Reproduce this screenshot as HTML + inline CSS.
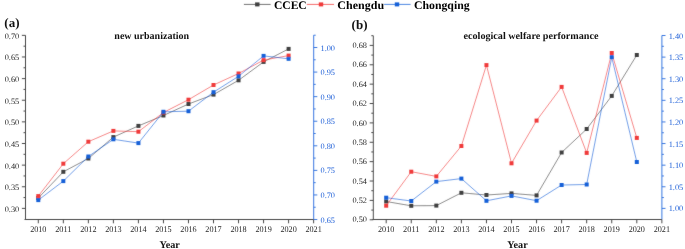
<!DOCTYPE html>
<html><head><meta charset="utf-8">
<style>
html,body{margin:0;padding:0;background:#fff;}
body{width:685px;height:249px;overflow:hidden;}
svg{display:block;font-family:"Liberation Serif", serif;will-change:transform;text-rendering:geometricPrecision;}
</style></head>
<body>
<svg width="685" height="249" viewBox="0 0 685 249">
<defs><filter id="bl" filterUnits="userSpaceOnUse" x="0" y="0" width="685" height="249"><feConvolveMatrix order="3" kernelMatrix="0.015 0.05 0.015 0.05 0.7400 0.05 0.015 0.05 0.015" divisor="1" edgeMode="duplicate"/></filter></defs>
<rect width="685" height="249" fill="#fff"/>
<g filter="url(#bl)">
<line x1="25.50" y1="35.35" x2="25.50" y2="219.50" stroke="#4a4a4a" stroke-width="1.0"/>
<line x1="21.90" y1="208.39" x2="25.50" y2="208.39" stroke="#4a4a4a" stroke-width="1.0"/>
<line x1="21.90" y1="186.76" x2="25.50" y2="186.76" stroke="#4a4a4a" stroke-width="1.0"/>
<line x1="21.90" y1="165.13" x2="25.50" y2="165.13" stroke="#4a4a4a" stroke-width="1.0"/>
<line x1="21.90" y1="143.50" x2="25.50" y2="143.50" stroke="#4a4a4a" stroke-width="1.0"/>
<line x1="21.90" y1="121.87" x2="25.50" y2="121.87" stroke="#4a4a4a" stroke-width="1.0"/>
<line x1="21.90" y1="100.24" x2="25.50" y2="100.24" stroke="#4a4a4a" stroke-width="1.0"/>
<line x1="21.90" y1="78.61" x2="25.50" y2="78.61" stroke="#4a4a4a" stroke-width="1.0"/>
<line x1="21.90" y1="56.98" x2="25.50" y2="56.98" stroke="#4a4a4a" stroke-width="1.0"/>
<line x1="21.90" y1="35.35" x2="25.50" y2="35.35" stroke="#4a4a4a" stroke-width="1.0"/>
<line x1="23.50" y1="197.57" x2="25.50" y2="197.57" stroke="#4a4a4a" stroke-width="1.0"/>
<line x1="23.50" y1="175.94" x2="25.50" y2="175.94" stroke="#4a4a4a" stroke-width="1.0"/>
<line x1="23.50" y1="154.31" x2="25.50" y2="154.31" stroke="#4a4a4a" stroke-width="1.0"/>
<line x1="23.50" y1="132.68" x2="25.50" y2="132.68" stroke="#4a4a4a" stroke-width="1.0"/>
<line x1="23.50" y1="111.05" x2="25.50" y2="111.05" stroke="#4a4a4a" stroke-width="1.0"/>
<line x1="23.50" y1="89.42" x2="25.50" y2="89.42" stroke="#4a4a4a" stroke-width="1.0"/>
<line x1="23.50" y1="67.79" x2="25.50" y2="67.79" stroke="#4a4a4a" stroke-width="1.0"/>
<line x1="23.50" y1="46.16" x2="25.50" y2="46.16" stroke="#4a4a4a" stroke-width="1.0"/>
<line x1="313.70" y1="35.21" x2="313.70" y2="219.50" stroke="#3A78E0" stroke-width="1.0"/>
<line x1="313.70" y1="219.52" x2="317.30" y2="219.52" stroke="#3A78E0" stroke-width="1.0"/>
<line x1="313.70" y1="194.95" x2="317.30" y2="194.95" stroke="#3A78E0" stroke-width="1.0"/>
<line x1="313.70" y1="170.38" x2="317.30" y2="170.38" stroke="#3A78E0" stroke-width="1.0"/>
<line x1="313.70" y1="145.80" x2="317.30" y2="145.80" stroke="#3A78E0" stroke-width="1.0"/>
<line x1="313.70" y1="121.23" x2="317.30" y2="121.23" stroke="#3A78E0" stroke-width="1.0"/>
<line x1="313.70" y1="96.65" x2="317.30" y2="96.65" stroke="#3A78E0" stroke-width="1.0"/>
<line x1="313.70" y1="72.08" x2="317.30" y2="72.08" stroke="#3A78E0" stroke-width="1.0"/>
<line x1="313.70" y1="47.50" x2="317.30" y2="47.50" stroke="#3A78E0" stroke-width="1.0"/>
<line x1="313.70" y1="207.24" x2="315.70" y2="207.24" stroke="#3A78E0" stroke-width="1.0"/>
<line x1="313.70" y1="182.66" x2="315.70" y2="182.66" stroke="#3A78E0" stroke-width="1.0"/>
<line x1="313.70" y1="158.09" x2="315.70" y2="158.09" stroke="#3A78E0" stroke-width="1.0"/>
<line x1="313.70" y1="133.51" x2="315.70" y2="133.51" stroke="#3A78E0" stroke-width="1.0"/>
<line x1="313.70" y1="108.94" x2="315.70" y2="108.94" stroke="#3A78E0" stroke-width="1.0"/>
<line x1="313.70" y1="84.36" x2="315.70" y2="84.36" stroke="#3A78E0" stroke-width="1.0"/>
<line x1="313.70" y1="59.79" x2="315.70" y2="59.79" stroke="#3A78E0" stroke-width="1.0"/>
<line x1="313.70" y1="35.21" x2="315.70" y2="35.21" stroke="#3A78E0" stroke-width="1.0"/>
<line x1="24.50" y1="219.50" x2="313.70" y2="219.50" stroke="#4a4a4a" stroke-width="1.0"/>
<line x1="38.30" y1="219.50" x2="38.30" y2="223.30" stroke="#4a4a4a" stroke-width="1.0"/>
<line x1="63.33" y1="219.50" x2="63.33" y2="223.30" stroke="#4a4a4a" stroke-width="1.0"/>
<line x1="88.36" y1="219.50" x2="88.36" y2="223.30" stroke="#4a4a4a" stroke-width="1.0"/>
<line x1="113.39" y1="219.50" x2="113.39" y2="223.30" stroke="#4a4a4a" stroke-width="1.0"/>
<line x1="138.42" y1="219.50" x2="138.42" y2="223.30" stroke="#4a4a4a" stroke-width="1.0"/>
<line x1="163.45" y1="219.50" x2="163.45" y2="223.30" stroke="#4a4a4a" stroke-width="1.0"/>
<line x1="188.48" y1="219.50" x2="188.48" y2="223.30" stroke="#4a4a4a" stroke-width="1.0"/>
<line x1="213.51" y1="219.50" x2="213.51" y2="223.30" stroke="#4a4a4a" stroke-width="1.0"/>
<line x1="238.54" y1="219.50" x2="238.54" y2="223.30" stroke="#4a4a4a" stroke-width="1.0"/>
<line x1="263.57" y1="219.50" x2="263.57" y2="223.30" stroke="#4a4a4a" stroke-width="1.0"/>
<line x1="288.60" y1="219.50" x2="288.60" y2="223.30" stroke="#4a4a4a" stroke-width="1.0"/>
<line x1="313.63" y1="219.50" x2="313.63" y2="223.30" stroke="#4a4a4a" stroke-width="1.0"/>
<polyline points="38.30,198.00 63.33,171.80 88.36,158.50 113.39,137.10 138.42,125.90 163.45,115.50 188.48,104.00 213.51,94.60 238.54,80.30 263.57,61.90 288.60,48.90" fill="none" stroke="#414141" stroke-width="0.6"/>
<rect x="36.30" y="196.00" width="4.0" height="4.0" fill="#414141"/>
<rect x="61.33" y="169.80" width="4.0" height="4.0" fill="#414141"/>
<rect x="86.36" y="156.50" width="4.0" height="4.0" fill="#414141"/>
<rect x="111.39" y="135.10" width="4.0" height="4.0" fill="#414141"/>
<rect x="136.42" y="123.90" width="4.0" height="4.0" fill="#414141"/>
<rect x="161.45" y="113.50" width="4.0" height="4.0" fill="#414141"/>
<rect x="186.48" y="102.00" width="4.0" height="4.0" fill="#414141"/>
<rect x="211.51" y="92.60" width="4.0" height="4.0" fill="#414141"/>
<rect x="236.54" y="78.30" width="4.0" height="4.0" fill="#414141"/>
<rect x="261.57" y="59.90" width="4.0" height="4.0" fill="#414141"/>
<rect x="286.60" y="46.90" width="4.0" height="4.0" fill="#414141"/>
<polyline points="38.30,196.10 63.33,163.70 88.36,141.70 113.39,130.90 138.42,131.70 163.45,112.50 188.48,99.70 213.51,85.00 238.54,73.50 263.57,60.10 288.60,55.60" fill="none" stroke="#F03A3A" stroke-width="0.6"/>
<rect x="36.30" y="194.10" width="4.0" height="4.0" fill="#F03A3A"/>
<rect x="61.33" y="161.70" width="4.0" height="4.0" fill="#F03A3A"/>
<rect x="86.36" y="139.70" width="4.0" height="4.0" fill="#F03A3A"/>
<rect x="111.39" y="128.90" width="4.0" height="4.0" fill="#F03A3A"/>
<rect x="136.42" y="129.70" width="4.0" height="4.0" fill="#F03A3A"/>
<rect x="161.45" y="110.50" width="4.0" height="4.0" fill="#F03A3A"/>
<rect x="186.48" y="97.70" width="4.0" height="4.0" fill="#F03A3A"/>
<rect x="211.51" y="83.00" width="4.0" height="4.0" fill="#F03A3A"/>
<rect x="236.54" y="71.50" width="4.0" height="4.0" fill="#F03A3A"/>
<rect x="261.57" y="58.10" width="4.0" height="4.0" fill="#F03A3A"/>
<rect x="286.60" y="53.60" width="4.0" height="4.0" fill="#F03A3A"/>
<polyline points="38.30,200.10 63.33,181.10 88.36,156.50 113.39,139.30 138.42,143.10 163.45,111.80 188.48,111.20 213.51,92.20 238.54,76.30 263.57,55.90 288.60,58.80" fill="none" stroke="#1560D8" stroke-width="0.6"/>
<rect x="36.30" y="198.10" width="4.0" height="4.0" fill="#1560D8"/>
<rect x="61.33" y="179.10" width="4.0" height="4.0" fill="#1560D8"/>
<rect x="86.36" y="154.50" width="4.0" height="4.0" fill="#1560D8"/>
<rect x="111.39" y="137.30" width="4.0" height="4.0" fill="#1560D8"/>
<rect x="136.42" y="141.10" width="4.0" height="4.0" fill="#1560D8"/>
<rect x="161.45" y="109.80" width="4.0" height="4.0" fill="#1560D8"/>
<rect x="186.48" y="109.20" width="4.0" height="4.0" fill="#1560D8"/>
<rect x="211.51" y="90.20" width="4.0" height="4.0" fill="#1560D8"/>
<rect x="236.54" y="74.30" width="4.0" height="4.0" fill="#1560D8"/>
<rect x="261.57" y="53.90" width="4.0" height="4.0" fill="#1560D8"/>
<rect x="286.60" y="56.80" width="4.0" height="4.0" fill="#1560D8"/>
<line x1="373.30" y1="35.71" x2="373.30" y2="219.50" stroke="#4a4a4a" stroke-width="1.0"/>
<line x1="369.70" y1="219.78" x2="373.30" y2="219.78" stroke="#4a4a4a" stroke-width="1.0"/>
<line x1="369.70" y1="200.40" x2="373.30" y2="200.40" stroke="#4a4a4a" stroke-width="1.0"/>
<line x1="369.70" y1="181.03" x2="373.30" y2="181.03" stroke="#4a4a4a" stroke-width="1.0"/>
<line x1="369.70" y1="161.65" x2="373.30" y2="161.65" stroke="#4a4a4a" stroke-width="1.0"/>
<line x1="369.70" y1="142.28" x2="373.30" y2="142.28" stroke="#4a4a4a" stroke-width="1.0"/>
<line x1="369.70" y1="122.90" x2="373.30" y2="122.90" stroke="#4a4a4a" stroke-width="1.0"/>
<line x1="369.70" y1="103.53" x2="373.30" y2="103.53" stroke="#4a4a4a" stroke-width="1.0"/>
<line x1="369.70" y1="84.15" x2="373.30" y2="84.15" stroke="#4a4a4a" stroke-width="1.0"/>
<line x1="369.70" y1="64.78" x2="373.30" y2="64.78" stroke="#4a4a4a" stroke-width="1.0"/>
<line x1="369.70" y1="45.40" x2="373.30" y2="45.40" stroke="#4a4a4a" stroke-width="1.0"/>
<line x1="371.30" y1="210.09" x2="373.30" y2="210.09" stroke="#4a4a4a" stroke-width="1.0"/>
<line x1="371.30" y1="190.71" x2="373.30" y2="190.71" stroke="#4a4a4a" stroke-width="1.0"/>
<line x1="371.30" y1="171.34" x2="373.30" y2="171.34" stroke="#4a4a4a" stroke-width="1.0"/>
<line x1="371.30" y1="151.96" x2="373.30" y2="151.96" stroke="#4a4a4a" stroke-width="1.0"/>
<line x1="371.30" y1="132.59" x2="373.30" y2="132.59" stroke="#4a4a4a" stroke-width="1.0"/>
<line x1="371.30" y1="113.21" x2="373.30" y2="113.21" stroke="#4a4a4a" stroke-width="1.0"/>
<line x1="371.30" y1="93.84" x2="373.30" y2="93.84" stroke="#4a4a4a" stroke-width="1.0"/>
<line x1="371.30" y1="74.46" x2="373.30" y2="74.46" stroke="#4a4a4a" stroke-width="1.0"/>
<line x1="371.30" y1="55.09" x2="373.30" y2="55.09" stroke="#4a4a4a" stroke-width="1.0"/>
<line x1="371.30" y1="35.71" x2="373.30" y2="35.71" stroke="#4a4a4a" stroke-width="1.0"/>
<line x1="661.90" y1="35.50" x2="661.90" y2="219.50" stroke="#3A78E0" stroke-width="1.0"/>
<line x1="661.90" y1="208.38" x2="665.50" y2="208.38" stroke="#3A78E0" stroke-width="1.0"/>
<line x1="661.90" y1="186.77" x2="665.50" y2="186.77" stroke="#3A78E0" stroke-width="1.0"/>
<line x1="661.90" y1="165.16" x2="665.50" y2="165.16" stroke="#3A78E0" stroke-width="1.0"/>
<line x1="661.90" y1="143.55" x2="665.50" y2="143.55" stroke="#3A78E0" stroke-width="1.0"/>
<line x1="661.90" y1="121.94" x2="665.50" y2="121.94" stroke="#3A78E0" stroke-width="1.0"/>
<line x1="661.90" y1="100.33" x2="665.50" y2="100.33" stroke="#3A78E0" stroke-width="1.0"/>
<line x1="661.90" y1="78.72" x2="665.50" y2="78.72" stroke="#3A78E0" stroke-width="1.0"/>
<line x1="661.90" y1="57.11" x2="665.50" y2="57.11" stroke="#3A78E0" stroke-width="1.0"/>
<line x1="661.90" y1="35.50" x2="665.50" y2="35.50" stroke="#3A78E0" stroke-width="1.0"/>
<line x1="661.90" y1="197.57" x2="663.90" y2="197.57" stroke="#3A78E0" stroke-width="1.0"/>
<line x1="661.90" y1="175.96" x2="663.90" y2="175.96" stroke="#3A78E0" stroke-width="1.0"/>
<line x1="661.90" y1="154.35" x2="663.90" y2="154.35" stroke="#3A78E0" stroke-width="1.0"/>
<line x1="661.90" y1="132.74" x2="663.90" y2="132.74" stroke="#3A78E0" stroke-width="1.0"/>
<line x1="661.90" y1="111.13" x2="663.90" y2="111.13" stroke="#3A78E0" stroke-width="1.0"/>
<line x1="661.90" y1="89.53" x2="663.90" y2="89.53" stroke="#3A78E0" stroke-width="1.0"/>
<line x1="661.90" y1="67.91" x2="663.90" y2="67.91" stroke="#3A78E0" stroke-width="1.0"/>
<line x1="661.90" y1="46.30" x2="663.90" y2="46.30" stroke="#3A78E0" stroke-width="1.0"/>
<line x1="372.30" y1="219.50" x2="661.90" y2="219.50" stroke="#4a4a4a" stroke-width="1.0"/>
<line x1="386.20" y1="219.50" x2="386.20" y2="223.30" stroke="#4a4a4a" stroke-width="1.0"/>
<line x1="411.26" y1="219.50" x2="411.26" y2="223.30" stroke="#4a4a4a" stroke-width="1.0"/>
<line x1="436.32" y1="219.50" x2="436.32" y2="223.30" stroke="#4a4a4a" stroke-width="1.0"/>
<line x1="461.38" y1="219.50" x2="461.38" y2="223.30" stroke="#4a4a4a" stroke-width="1.0"/>
<line x1="486.44" y1="219.50" x2="486.44" y2="223.30" stroke="#4a4a4a" stroke-width="1.0"/>
<line x1="511.50" y1="219.50" x2="511.50" y2="223.30" stroke="#4a4a4a" stroke-width="1.0"/>
<line x1="536.56" y1="219.50" x2="536.56" y2="223.30" stroke="#4a4a4a" stroke-width="1.0"/>
<line x1="561.62" y1="219.50" x2="561.62" y2="223.30" stroke="#4a4a4a" stroke-width="1.0"/>
<line x1="586.68" y1="219.50" x2="586.68" y2="223.30" stroke="#4a4a4a" stroke-width="1.0"/>
<line x1="611.74" y1="219.50" x2="611.74" y2="223.30" stroke="#4a4a4a" stroke-width="1.0"/>
<line x1="636.80" y1="219.50" x2="636.80" y2="223.30" stroke="#4a4a4a" stroke-width="1.0"/>
<line x1="661.86" y1="219.50" x2="661.86" y2="223.30" stroke="#4a4a4a" stroke-width="1.0"/>
<polyline points="386.20,201.50 411.26,205.80 436.32,205.60 461.38,192.80 486.44,195.00 511.50,193.40 536.56,195.40 561.62,152.50 586.68,129.00 611.74,95.90 636.80,55.00" fill="none" stroke="#414141" stroke-width="0.6"/>
<rect x="384.20" y="199.50" width="4.0" height="4.0" fill="#414141"/>
<rect x="409.26" y="203.80" width="4.0" height="4.0" fill="#414141"/>
<rect x="434.32" y="203.60" width="4.0" height="4.0" fill="#414141"/>
<rect x="459.38" y="190.80" width="4.0" height="4.0" fill="#414141"/>
<rect x="484.44" y="193.00" width="4.0" height="4.0" fill="#414141"/>
<rect x="509.50" y="191.40" width="4.0" height="4.0" fill="#414141"/>
<rect x="534.56" y="193.40" width="4.0" height="4.0" fill="#414141"/>
<rect x="559.62" y="150.50" width="4.0" height="4.0" fill="#414141"/>
<rect x="584.68" y="127.00" width="4.0" height="4.0" fill="#414141"/>
<rect x="609.74" y="93.90" width="4.0" height="4.0" fill="#414141"/>
<rect x="634.80" y="53.00" width="4.0" height="4.0" fill="#414141"/>
<polyline points="386.20,205.70 411.26,171.70 436.32,176.40 461.38,146.00 486.44,65.10 511.50,163.30 536.56,120.60 561.62,86.90 586.68,152.90 611.74,53.00 636.80,137.90" fill="none" stroke="#F03A3A" stroke-width="0.6"/>
<rect x="384.20" y="203.70" width="4.0" height="4.0" fill="#F03A3A"/>
<rect x="409.26" y="169.70" width="4.0" height="4.0" fill="#F03A3A"/>
<rect x="434.32" y="174.40" width="4.0" height="4.0" fill="#F03A3A"/>
<rect x="459.38" y="144.00" width="4.0" height="4.0" fill="#F03A3A"/>
<rect x="484.44" y="63.10" width="4.0" height="4.0" fill="#F03A3A"/>
<rect x="509.50" y="161.30" width="4.0" height="4.0" fill="#F03A3A"/>
<rect x="534.56" y="118.60" width="4.0" height="4.0" fill="#F03A3A"/>
<rect x="559.62" y="84.90" width="4.0" height="4.0" fill="#F03A3A"/>
<rect x="584.68" y="150.90" width="4.0" height="4.0" fill="#F03A3A"/>
<rect x="609.74" y="51.00" width="4.0" height="4.0" fill="#F03A3A"/>
<rect x="634.80" y="135.90" width="4.0" height="4.0" fill="#F03A3A"/>
<polyline points="386.20,197.70 411.26,201.00 436.32,181.60 461.38,178.60 486.44,200.80 511.50,195.90 536.56,200.70 561.62,185.00 586.68,184.50 611.74,57.10 636.80,162.00" fill="none" stroke="#1560D8" stroke-width="0.6"/>
<rect x="384.20" y="195.70" width="4.0" height="4.0" fill="#1560D8"/>
<rect x="409.26" y="199.00" width="4.0" height="4.0" fill="#1560D8"/>
<rect x="434.32" y="179.60" width="4.0" height="4.0" fill="#1560D8"/>
<rect x="459.38" y="176.60" width="4.0" height="4.0" fill="#1560D8"/>
<rect x="484.44" y="198.80" width="4.0" height="4.0" fill="#1560D8"/>
<rect x="509.50" y="193.90" width="4.0" height="4.0" fill="#1560D8"/>
<rect x="534.56" y="198.70" width="4.0" height="4.0" fill="#1560D8"/>
<rect x="559.62" y="183.00" width="4.0" height="4.0" fill="#1560D8"/>
<rect x="584.68" y="182.50" width="4.0" height="4.0" fill="#1560D8"/>
<rect x="609.74" y="55.10" width="4.0" height="4.0" fill="#1560D8"/>
<rect x="634.80" y="160.00" width="4.0" height="4.0" fill="#1560D8"/>
<line x1="243.90" y1="4.40" x2="270.60" y2="4.40" stroke="#414141" stroke-width="0.75"/>
<rect x="255.10" y="2.40" width="4.4" height="4.0" fill="#414141"/>
<line x1="306.80" y1="4.40" x2="334.00" y2="4.40" stroke="#F03A3A" stroke-width="0.75"/>
<rect x="318.80" y="2.40" width="4.4" height="4.0" fill="#F03A3A"/>
<line x1="384.10" y1="4.40" x2="410.60" y2="4.40" stroke="#1560D8" stroke-width="0.75"/>
<rect x="394.80" y="2.40" width="4.4" height="4.0" fill="#1560D8"/>
</g>
<g>
<text x="19.20" y="211.79" font-size="8.3" text-anchor="end" font-weight="normal" fill="#262626">0.30</text>
<text x="19.20" y="190.16" font-size="8.3" text-anchor="end" font-weight="normal" fill="#262626">0.35</text>
<text x="19.20" y="168.53" font-size="8.3" text-anchor="end" font-weight="normal" fill="#262626">0.40</text>
<text x="19.20" y="146.90" font-size="8.3" text-anchor="end" font-weight="normal" fill="#262626">0.45</text>
<text x="19.20" y="125.27" font-size="8.3" text-anchor="end" font-weight="normal" fill="#262626">0.50</text>
<text x="19.20" y="103.64" font-size="8.3" text-anchor="end" font-weight="normal" fill="#262626">0.55</text>
<text x="19.20" y="82.01" font-size="8.3" text-anchor="end" font-weight="normal" fill="#262626">0.60</text>
<text x="19.20" y="60.38" font-size="8.3" text-anchor="end" font-weight="normal" fill="#262626">0.65</text>
<text x="19.20" y="38.75" font-size="8.3" text-anchor="end" font-weight="normal" fill="#262626">0.70</text>
<text x="320.50" y="222.62" font-size="8.3" text-anchor="start" font-weight="normal" fill="#2262D8">0.65</text>
<text x="320.50" y="198.05" font-size="8.3" text-anchor="start" font-weight="normal" fill="#2262D8">0.70</text>
<text x="320.50" y="173.47" font-size="8.3" text-anchor="start" font-weight="normal" fill="#2262D8">0.75</text>
<text x="320.50" y="148.90" font-size="8.3" text-anchor="start" font-weight="normal" fill="#2262D8">0.80</text>
<text x="320.50" y="124.33" font-size="8.3" text-anchor="start" font-weight="normal" fill="#2262D8">0.85</text>
<text x="320.50" y="99.75" font-size="8.3" text-anchor="start" font-weight="normal" fill="#2262D8">0.90</text>
<text x="320.50" y="75.18" font-size="8.3" text-anchor="start" font-weight="normal" fill="#2262D8">0.95</text>
<text x="320.50" y="50.60" font-size="8.3" text-anchor="start" font-weight="normal" fill="#2262D8">1.00</text>
<text x="38.30" y="232.40" font-size="8.7" text-anchor="middle" font-weight="normal" fill="#262626" textLength="16.3" lengthAdjust="spacingAndGlyphs">2010</text>
<text x="63.33" y="232.40" font-size="8.7" text-anchor="middle" font-weight="normal" fill="#262626" textLength="16.3" lengthAdjust="spacingAndGlyphs">2011</text>
<text x="88.36" y="232.40" font-size="8.7" text-anchor="middle" font-weight="normal" fill="#262626" textLength="16.3" lengthAdjust="spacingAndGlyphs">2012</text>
<text x="113.39" y="232.40" font-size="8.7" text-anchor="middle" font-weight="normal" fill="#262626" textLength="16.3" lengthAdjust="spacingAndGlyphs">2013</text>
<text x="138.42" y="232.40" font-size="8.7" text-anchor="middle" font-weight="normal" fill="#262626" textLength="16.3" lengthAdjust="spacingAndGlyphs">2014</text>
<text x="163.45" y="232.40" font-size="8.7" text-anchor="middle" font-weight="normal" fill="#262626" textLength="16.3" lengthAdjust="spacingAndGlyphs">2015</text>
<text x="188.48" y="232.40" font-size="8.7" text-anchor="middle" font-weight="normal" fill="#262626" textLength="16.3" lengthAdjust="spacingAndGlyphs">2016</text>
<text x="213.51" y="232.40" font-size="8.7" text-anchor="middle" font-weight="normal" fill="#262626" textLength="16.3" lengthAdjust="spacingAndGlyphs">2017</text>
<text x="238.54" y="232.40" font-size="8.7" text-anchor="middle" font-weight="normal" fill="#262626" textLength="16.3" lengthAdjust="spacingAndGlyphs">2018</text>
<text x="263.57" y="232.40" font-size="8.7" text-anchor="middle" font-weight="normal" fill="#262626" textLength="16.3" lengthAdjust="spacingAndGlyphs">2019</text>
<text x="288.60" y="232.40" font-size="8.7" text-anchor="middle" font-weight="normal" fill="#262626" textLength="16.3" lengthAdjust="spacingAndGlyphs">2020</text>
<text x="313.63" y="232.40" font-size="8.7" text-anchor="middle" font-weight="normal" fill="#262626" textLength="16.3" lengthAdjust="spacingAndGlyphs">2021</text>
<text x="151.70" y="38.80" font-size="10" text-anchor="middle" font-weight="bold" fill="#111">new urbanization</text>
<text x="4.30" y="27.30" font-size="13" text-anchor="start" font-weight="bold" fill="#111">(a)</text>
<text x="169.60" y="248.00" font-size="10.2" text-anchor="middle" font-weight="bold" fill="#111">Year</text>
<text x="367.00" y="222.48" font-size="8.3" text-anchor="end" font-weight="normal" fill="#262626">0.50</text>
<text x="367.00" y="203.10" font-size="8.3" text-anchor="end" font-weight="normal" fill="#262626">0.52</text>
<text x="367.00" y="183.73" font-size="8.3" text-anchor="end" font-weight="normal" fill="#262626">0.54</text>
<text x="367.00" y="164.35" font-size="8.3" text-anchor="end" font-weight="normal" fill="#262626">0.56</text>
<text x="367.00" y="144.98" font-size="8.3" text-anchor="end" font-weight="normal" fill="#262626">0.58</text>
<text x="367.00" y="125.60" font-size="8.3" text-anchor="end" font-weight="normal" fill="#262626">0.60</text>
<text x="367.00" y="106.23" font-size="8.3" text-anchor="end" font-weight="normal" fill="#262626">0.62</text>
<text x="367.00" y="86.85" font-size="8.3" text-anchor="end" font-weight="normal" fill="#262626">0.64</text>
<text x="367.00" y="67.48" font-size="8.3" text-anchor="end" font-weight="normal" fill="#262626">0.66</text>
<text x="367.00" y="48.10" font-size="8.3" text-anchor="end" font-weight="normal" fill="#262626">0.68</text>
<text x="668.70" y="211.48" font-size="8.3" text-anchor="start" font-weight="normal" fill="#2262D8">1.00</text>
<text x="668.70" y="189.87" font-size="8.3" text-anchor="start" font-weight="normal" fill="#2262D8">1.05</text>
<text x="668.70" y="168.26" font-size="8.3" text-anchor="start" font-weight="normal" fill="#2262D8">1.10</text>
<text x="668.70" y="146.65" font-size="8.3" text-anchor="start" font-weight="normal" fill="#2262D8">1.15</text>
<text x="668.70" y="125.04" font-size="8.3" text-anchor="start" font-weight="normal" fill="#2262D8">1.20</text>
<text x="668.70" y="103.43" font-size="8.3" text-anchor="start" font-weight="normal" fill="#2262D8">1.25</text>
<text x="668.70" y="81.82" font-size="8.3" text-anchor="start" font-weight="normal" fill="#2262D8">1.30</text>
<text x="668.70" y="60.21" font-size="8.3" text-anchor="start" font-weight="normal" fill="#2262D8">1.35</text>
<text x="668.70" y="38.60" font-size="8.3" text-anchor="start" font-weight="normal" fill="#2262D8">1.40</text>
<text x="386.20" y="232.40" font-size="8.7" text-anchor="middle" font-weight="normal" fill="#262626" textLength="16.3" lengthAdjust="spacingAndGlyphs">2010</text>
<text x="411.26" y="232.40" font-size="8.7" text-anchor="middle" font-weight="normal" fill="#262626" textLength="16.3" lengthAdjust="spacingAndGlyphs">2011</text>
<text x="436.32" y="232.40" font-size="8.7" text-anchor="middle" font-weight="normal" fill="#262626" textLength="16.3" lengthAdjust="spacingAndGlyphs">2012</text>
<text x="461.38" y="232.40" font-size="8.7" text-anchor="middle" font-weight="normal" fill="#262626" textLength="16.3" lengthAdjust="spacingAndGlyphs">2013</text>
<text x="486.44" y="232.40" font-size="8.7" text-anchor="middle" font-weight="normal" fill="#262626" textLength="16.3" lengthAdjust="spacingAndGlyphs">2014</text>
<text x="511.50" y="232.40" font-size="8.7" text-anchor="middle" font-weight="normal" fill="#262626" textLength="16.3" lengthAdjust="spacingAndGlyphs">2015</text>
<text x="536.56" y="232.40" font-size="8.7" text-anchor="middle" font-weight="normal" fill="#262626" textLength="16.3" lengthAdjust="spacingAndGlyphs">2016</text>
<text x="561.62" y="232.40" font-size="8.7" text-anchor="middle" font-weight="normal" fill="#262626" textLength="16.3" lengthAdjust="spacingAndGlyphs">2017</text>
<text x="586.68" y="232.40" font-size="8.7" text-anchor="middle" font-weight="normal" fill="#262626" textLength="16.3" lengthAdjust="spacingAndGlyphs">2018</text>
<text x="611.74" y="232.40" font-size="8.7" text-anchor="middle" font-weight="normal" fill="#262626" textLength="16.3" lengthAdjust="spacingAndGlyphs">2019</text>
<text x="636.80" y="232.40" font-size="8.7" text-anchor="middle" font-weight="normal" fill="#262626" textLength="16.3" lengthAdjust="spacingAndGlyphs">2020</text>
<text x="661.86" y="232.40" font-size="8.7" text-anchor="middle" font-weight="normal" fill="#262626" textLength="16.3" lengthAdjust="spacingAndGlyphs">2021</text>
<text x="531.00" y="38.80" font-size="10" text-anchor="middle" font-weight="bold" fill="#111" textLength="135.0" lengthAdjust="spacingAndGlyphs">ecological welfare performance</text>
<text x="351.60" y="29.40" font-size="13" text-anchor="start" font-weight="bold" fill="#111">(b)</text>
<text x="517.50" y="248.00" font-size="10.2" text-anchor="middle" font-weight="bold" fill="#111">Year</text>
<text x="273.90" y="8.80" font-size="11.6" text-anchor="start" font-weight="bold" fill="#000">CCEC</text>
<text x="337.30" y="8.80" font-size="11.6" text-anchor="start" font-weight="bold" fill="#000" textLength="46.8" lengthAdjust="spacingAndGlyphs">Chengdu</text>
<text x="413.90" y="8.80" font-size="11.6" text-anchor="start" font-weight="bold" fill="#000" textLength="55.8" lengthAdjust="spacingAndGlyphs">Chongqing</text>
</g>
</svg>
</body></html>
